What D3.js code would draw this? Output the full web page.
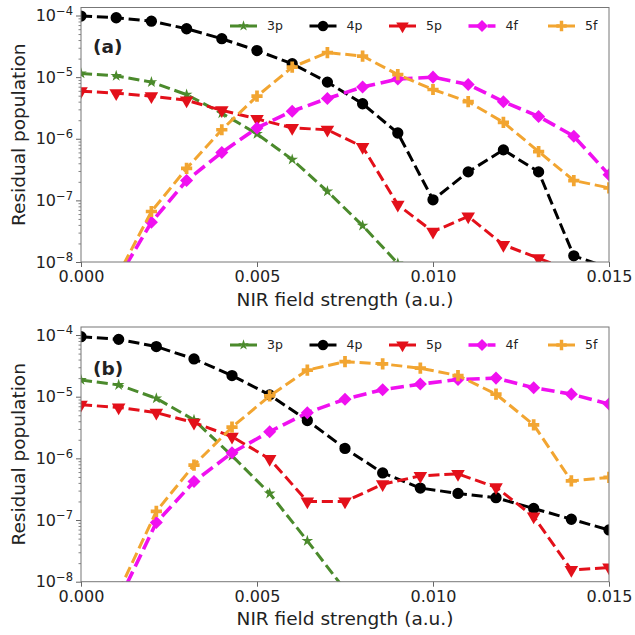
<!DOCTYPE html>
<html>
<head>
<meta charset="utf-8">
<script src="https://cdn.jsdelivr.net/npm/d3@7"></script>
<style>
  body { margin: 0; background: #fff; }
  text { font-family: "DejaVu Sans", sans-serif; fill: #222; }
</style>
</head>
<body>
<div id="chart"></div>
<script>
// NIR field strength grids (a.u.)
const fieldA = [0, 0.001, 0.002, 0.003, 0.004, 0.005, 0.006, 0.007, 0.008, 0.009, 0.010, 0.011, 0.012, 0.013, 0.014, 0.015];
const fieldB = [0, 0.00107, 0.00214, 0.00321, 0.00429, 0.00536, 0.00643, 0.0075, 0.00857, 0.00964, 0.01071, 0.01179, 0.01286, 0.01393, 0.015];

const stateNames = ["3p", "4p", "5p", "4f", "5f"];

// panel (a) residual populations
const a3p = [1.15e-5, 1.05e-5, 8.3e-6, 5.2e-6, 2.6e-6, 1.2e-6, 4.6e-7, 1.4e-7, 3.9e-8, 9.5e-9, null, null, null, null, null, null];
const a4p = [9.8e-5, 9.2e-5, 8.1e-5, 6.1e-5, 4.2e-5, 2.7e-5, 1.65e-5, 8.3e-6, 3.7e-6, 1.24e-6, 1.02e-7, 2.9e-7, 6.6e-7, 2.9e-7, 1.26e-8, 8e-9];
const a5p = [5.9e-6, 5.5e-6, 4.9e-6, 4.2e-6, 2.9e-6, 2.1e-6, 1.5e-6, 1.4e-6, 7.4e-7, 8.5e-8, 3.1e-8, 5.5e-8, 1.9e-8, 1.15e-8, 7e-9, 5e-9];
const a4f = [null, 4.8e-9, 4.4e-8, 2.1e-7, 6.0e-7, 1.5e-6, 2.8e-6, 4.5e-6, 6.9e-6, 9.3e-6, 1.0e-5, 7.6e-6, 4.0e-6, 2.3e-6, 1.1e-6, 2.6e-7];
const a5f = [null, 5.4e-9, 6.6e-8, 3.3e-7, 1.4e-6, 4.9e-6, 1.45e-5, 2.5e-5, 2.2e-5, 1.1e-5, 6.3e-6, 4.0e-6, 1.85e-6, 6.2e-7, 2.1e-7, 1.6e-7];

// panel (b) residual populations
const b3p = [1.87e-5, 1.55e-5, 9.4e-6, 4.2e-6, 1.1e-6, 2.7e-7, 4.6e-8, 7.4e-9, null, null, null, null, null, null, null];
const b4p = [9.4e-5, 8.5e-5, 6.5e-5, 4.1e-5, 2.2e-5, 1.07e-5, 4.1e-6, 1.45e-6, 5.8e-7, 3.3e-7, 2.7e-7, 2.3e-7, 1.54e-7, 1.03e-7, 6.9e-8];
const b5p = [7.4e-6, 6.7e-6, 5.5e-6, 3.8e-6, 2.25e-6, 9.8e-7, 2.0e-7, 2.0e-7, 3.8e-7, 5.2e-7, 5.6e-7, 3.4e-7, 1.14e-7, 1.55e-8, 1.7e-8];
const b4f = [null, 4.9e-9, 9.1e-8, 4.2e-7, 1.23e-6, 2.7e-6, 5.5e-6, 9.1e-6, 1.3e-5, 1.6e-5, 1.9e-5, 2.0e-5, 1.4e-5, 1.1e-5, 7.6e-6];
const b5f = [null, 6.9e-9, 1.38e-7, 7.8e-7, 3.2e-6, 1.03e-5, 2.7e-5, 3.7e-5, 3.4e-5, 2.9e-5, 2.2e-5, 1.1e-5, 3.5e-6, 4.3e-7, 4.9e-7];

const xTicks = [0, 0.005, 0.010, 0.015];
const yTicks = [1e-8, 1e-7, 1e-6, 1e-5, 1e-4];

// styles per state
const styles = {
    "3p": { color: "#4b8a2c", symbol: d3.symbolStar, size: 42, rot: 0, lw: 3 },
    "4p": { color: "#000000", symbol: d3.symbolCircle, size: 100, rot: 0, lw: 3 },
    "5p": { color: "#e3101a", symbol: d3.symbolTriangle, size: 80, rot: 180, lw: 3 },
    "4f": { color: "#f010f0", symbol: d3.symbolSquare, size: 85, rot: 45, lw: 3.6 },
    "5f": { color: "#f2a531", symbol: d3.symbolCross, size: 70, rot: 0, lw: 3 }
};

const W = 635, H = 635;
const svg = d3.select("#chart").append("svg")
    .attr("width", W)
    .attr("height", H);

function drawPanel(cfg) {
    const left = 81, right = 609;
    const x = d3.scaleLinear().domain([0, 0.015]).range([left, right]);
    const y = d3.scaleLog().domain([1e-8, Math.pow(10, -3.87)]).range([cfg.bottom, cfg.top]);

    const g = svg.append("g");

    // clip to plot area
    g.append("clipPath").attr("id", "clip" + cfg.id)
        .append("rect")
        .attr("x", left).attr("y", cfg.top)
        .attr("width", right - left).attr("height", cfg.bottom - cfg.top);

    // minor y ticks
    const minors = [];
    for (let e = -8; e < -3; e++) {
        for (let m = 2; m <= 9; m++) {
            const v = m * Math.pow(10, e);
            if (v < y.domain()[1]) minors.push(v);
        }
    }
    const minorAxis = g.append("g")
        .attr("transform", `translate(${left},0)`)
        .call(d3.axisLeft(y).tickValues(minors).tickSize(2.5).tickFormat(() => ""));
    minorAxis.select(".domain").remove();
    minorAxis.selectAll("line").attr("stroke", "#666").attr("stroke-width", 0.8);

    // major y ticks
    const yAxis = g.append("g")
        .attr("transform", `translate(${left},0)`)
        .call(d3.axisLeft(y).tickValues(yTicks).tickSize(5).tickPadding(3).tickFormat(() => ""));
    yAxis.select(".domain").remove();
    yAxis.selectAll("line").attr("stroke", "#666").attr("stroke-width", 1);
    yAxis.selectAll(".tick text").each(function(d) {
        const t = d3.select(this)
            .attr("font-size", 16)
            .attr("font-family", "DejaVu Sans")
            .attr("fill", "#222")
            .attr("dy", "0.32em");
        t.append("tspan").text("10");
        t.append("tspan")
            .attr("dy", "-0.55em")
            .attr("font-size", 11.5)
            .text("\u2212" + Math.round(-Math.log10(d)));
    });

    // x ticks
    const xAxis = g.append("g")
        .attr("transform", `translate(0,${cfg.bottom})`)
        .call(d3.axisBottom(x).tickValues(xTicks).tickSize(5).tickPadding(4).tickFormat(d3.format(".3f")));
    xAxis.select(".domain").remove();
    xAxis.selectAll("line").attr("stroke", "#666").attr("stroke-width", 1);
    xAxis.selectAll("text")
        .attr("font-size", 16)
        .attr("font-family", "DejaVu Sans")
        .attr("fill", "#222");

    // series
    const plot = g.append("g").attr("clip-path", `url(#clip${cfg.id})`);
    cfg.series.forEach((vals, k) => {
        const st = styles[stateNames[k]];
        const pts = vals.map((v, i) => ({ x: cfg.field[i], v: v })).filter(p => p.v != null);
        const line = d3.line().x(p => x(p.x)).y(p => y(p.v));
        plot.append("path")
            .datum(pts)
            .attr("d", line)
            .attr("fill", "none")
            .attr("stroke", st.color)
            .attr("stroke-width", st.lw)
            .attr("stroke-dasharray", `${3.7 * st.lw},${1.6 * st.lw}`);
        plot.selectAll(null)
            .data(pts)
            .join("path")
            .attr("d", d3.symbol(st.symbol, st.size))
            .attr("transform", p => `translate(${x(p.x)},${y(p.v)}) rotate(${st.rot})`)
            .attr("fill", st.color);
    });

    // frame
    g.append("rect")
        .attr("x", left).attr("y", cfg.top)
        .attr("width", right - left).attr("height", cfg.bottom - cfg.top)
        .attr("fill", "none")
        .attr("stroke", "#777")
        .attr("stroke-width", 1);

    // legend
    const legend = g.append("g").attr("transform", `translate(230,${cfg.legendY})`);
    stateNames.forEach((name, i) => {
        const st = styles[name];
        const item = legend.append("g").attr("transform", `translate(${i * 79.5},0)`);
        item.append("line")
            .attr("x1", 0).attr("x2", 27)
            .attr("stroke", st.color)
            .attr("stroke-width", st.lw)
            .attr("stroke-dasharray", `${3.7 * st.lw},${1.6 * st.lw}`);
        item.append("path")
            .attr("d", d3.symbol(st.symbol, st.size * 0.85))
            .attr("transform", `translate(13.5,0) rotate(${st.rot})`)
            .attr("fill", st.color);
        item.append("text")
            .attr("x", 37)
            .attr("dy", "0.35em")
            .attr("font-size", 12.5)
            .text(name);
    });

    // panel tag
    g.append("text")
        .attr("x", 93)
        .attr("y", cfg.tagY)
        .attr("font-size", 18.5)
        .attr("font-weight", "bold")
        .text(cfg.tag);

    // axis labels
    g.append("text")
        .attr("transform", `translate(25,${(cfg.top + cfg.bottom) / 2}) rotate(-90)`)
        .attr("text-anchor", "middle")
        .attr("font-size", 18.5)
        .text("Residual population");

    g.append("text")
        .attr("x", (left + right) / 2)
        .attr("y", cfg.labelY)
        .attr("text-anchor", "middle")
        .attr("font-size", 18.5)
        .text("NIR field strength (a.u.)");
}

drawPanel({ id: "a", tag: "(a)", top: 7.5, bottom: 262, legendY: 26, tagY: 53, labelY: 306,
    field: fieldA, series: [a3p, a4p, a5p, a4f, a5f] });
drawPanel({ id: "b", tag: "(b)", top: 327, bottom: 581.7, legendY: 345, tagY: 375, labelY: 625,
    field: fieldB, series: [b3p, b4p, b5p, b4f, b5f] });
</script>
</body>
</html>
